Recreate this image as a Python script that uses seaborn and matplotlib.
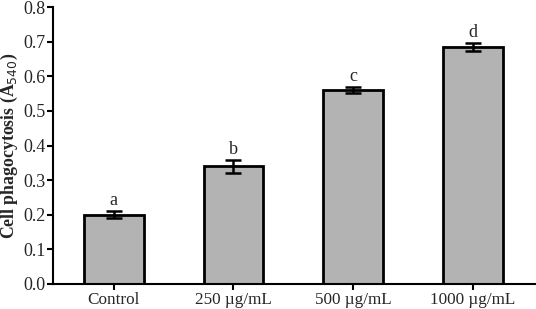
import numpy as np
import pandas as pd
import matplotlib
matplotlib.use("Agg")
import matplotlib.pyplot as plt
import seaborn as sns

groups = ["Control", "250 µg/mL", "500 µg/mL", "1000 µg/mL"]
means = [0.200, 0.340, 0.560, 0.685]
errs = [0.010, 0.018, 0.008, 0.012]
letters = ["a", "b", "c", "d"]

df = pd.DataFrame({"group": groups, "value": means})

sns.set_style("ticks")
plt.rcParams["font.family"] = ["Liberation Serif", "DejaVu Serif"]

fig = plt.figure(figsize=(5.36, 3.09), dpi=100)
ax = fig.add_axes([0.099, 0.081, 0.899, 0.896])

sns.barplot(data=df, x="group", y="value", color="#b3b3b3", width=0.5,
            edgecolor="black", linewidth=2, errorbar=None, saturation=1, ax=ax)

x = np.arange(len(groups))
ax.errorbar(x, means, yerr=errs, fmt="none", ecolor="black", elinewidth=1.8,
            capsize=6, capthick=1.8)
for xi, m, e, t in zip(x, means, errs, letters):
    ax.text(xi, m + e + 0.006, t, ha="center", va="bottom", fontsize=13)

ax.set_xlim(-0.508, 3.52)
ax.set_ylim(0, 0.8)
ax.set_yticks(np.arange(0, 0.81, 0.1))
ax.set_yticklabels([f"{v:.1f}" for v in np.arange(0, 0.81, 0.1)])
ax.set_xlabel("")
ax.set_ylabel("Cell phagocytosis (A$_{540}$)", fontsize=12.8, fontweight="bold", labelpad=2)
ax.tick_params(axis="y", labelsize=13, width=1.5, length=4, pad=1.5, direction="out", color="black")
ax.tick_params(axis="x", labelsize=12.3, width=1.5, length=4, pad=1.5, direction="out", color="black")
for s in ["left", "bottom"]:
    ax.spines[s].set_linewidth(1.5)
    ax.spines[s].set_color("black")
sns.despine(ax=ax)

fig.savefig("out.png", dpi=100)
